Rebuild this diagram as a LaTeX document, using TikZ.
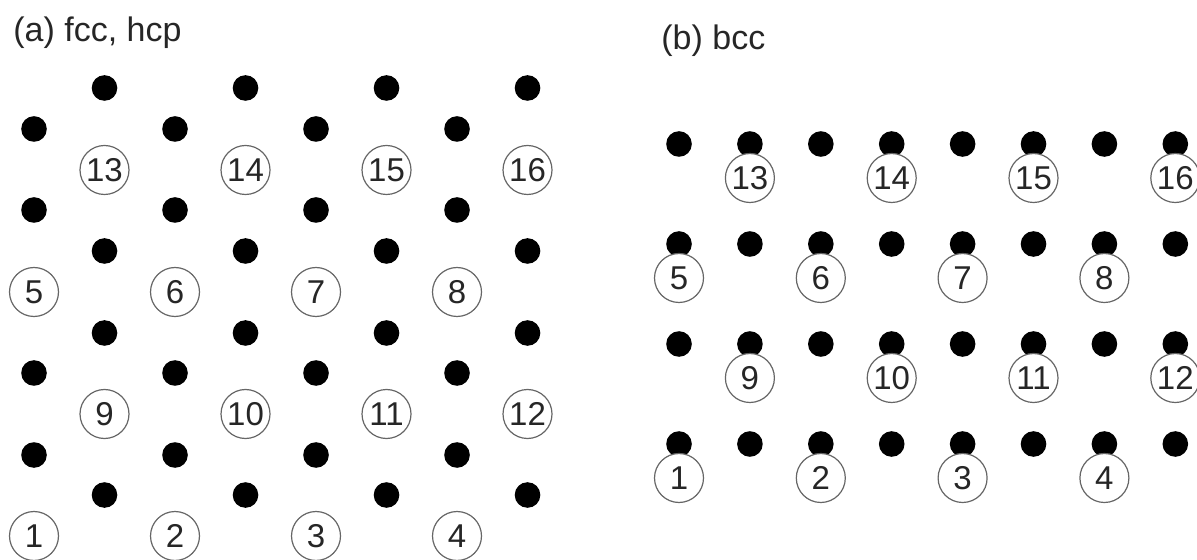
\documentclass[tikz,border=0pt]{standalone}
\usepackage{fontspec}
\setmainfont{Liberation Sans}
\usepackage{tikz}
\usetikzlibrary{positioning}

\begin{document}
\begin{tikzpicture}[
  x=0.5pt, y=-0.5pt,
  punto/.style={
    circle, fill=black, draw=none,
    minimum size=12.8pt, inner sep=0pt
  },
  sitio/.style={
    circle, fill=white, draw=black!60, line width=0.6pt,
    minimum size=24.5pt, inner sep=0pt,
    text=black!85, font=\fontsize{16.5}{18}\selectfont
  },
  titulo/.style={anchor=base west, inner sep=0pt, text=black!85,
                 font=\fontsize{17}{20}\selectfont}
]
  \useasboundingbox (0,0) rectangle (1197,560);

  % (a) fcc, hcp
  \node[titulo] (ta) at (13,42) {(a) fcc, hcp};
  \foreach \y/\dx in {495/70.5, 455/0, 373/0, 333/70.5,
                      251/70.5, 210/0, 129/0, 88/70.5}
    \foreach \i in {0,...,3}
      \node[punto] (pa-\y-\i) at ({34+\dx+141*\i},\y) {};
  \foreach \y/\dx/\n in {536/0/1, 414/70.5/9, 292/0/5, 170/70.5/13}
    \foreach \i in {0,...,3}{
      \pgfmathtruncatemacro\num{\n+\i}
      \node[sitio] (sa-\num) at ({34+\dx+141*\i},\y) {\num};
    }

  % (b) bcc
  \node[titulo] (tb) at (661,50) {(b) bcc};
  \foreach \y in {144,244,344,444}
    \foreach \j in {0,...,7}
      \node[punto] (pb-\y-\j) at ({679+70.9*\j},\y) {};
  \foreach \y/\c/\n in {144/1/13, 244/0/5, 344/1/9, 444/0/1}
    \foreach \i in {0,...,3}{
      \pgfmathtruncatemacro\num{\n+\i}
      \node[sitio] (sb-\num) at ({679+70.9*(\c+2*\i)},\y+34) {\num};
    }
\end{tikzpicture}
\end{document}
